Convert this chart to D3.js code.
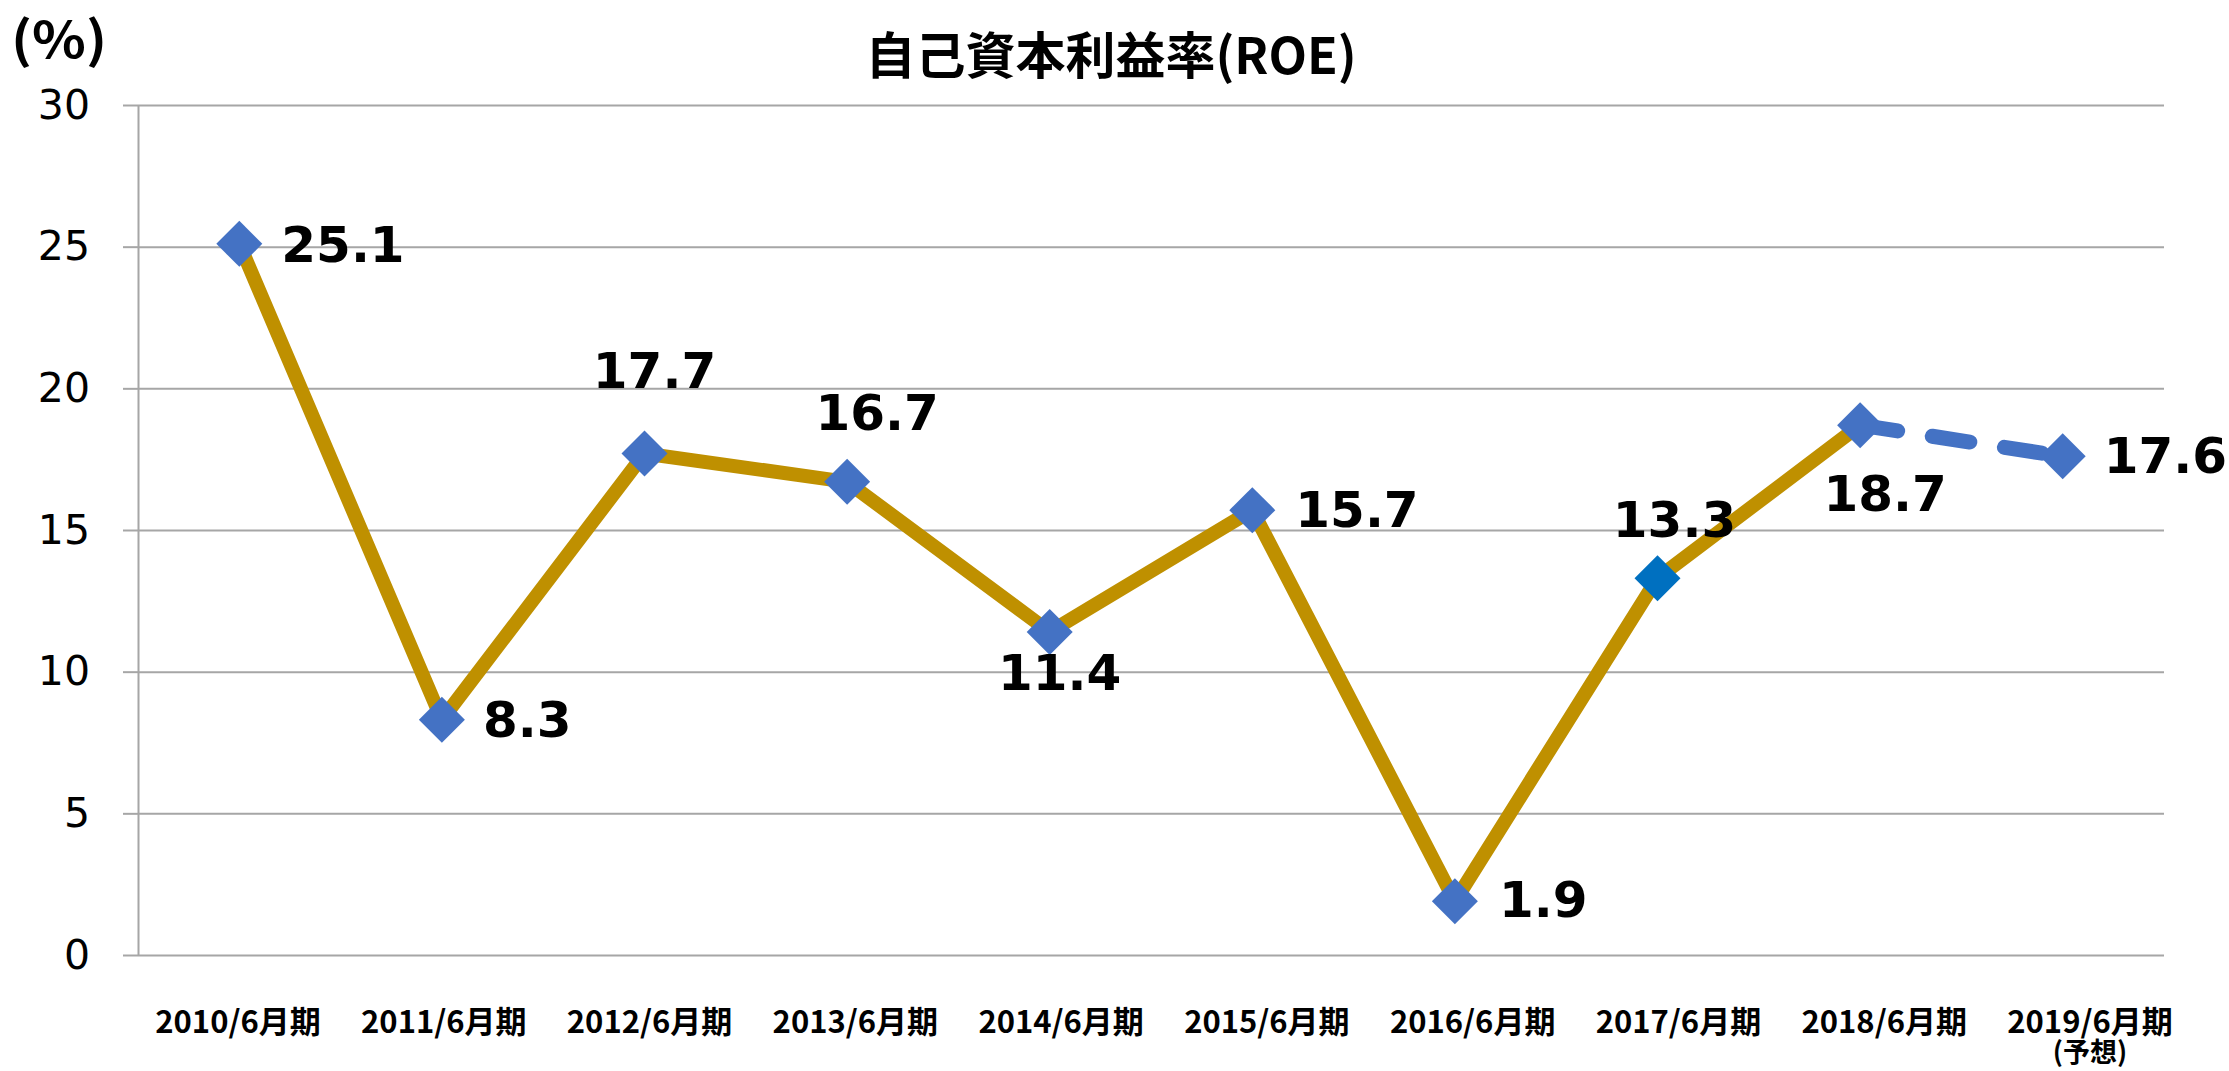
<!DOCTYPE html>
<html>
<meta charset="utf-8">
<style>
body { margin: 0; background: #fff; }
text.cjk { font-family: "Noto Sans CJK JP", sans-serif; font-weight: bold; }
text.num { font-family: "DejaVu Sans", Verdana, sans-serif; }
</style>
<body>
<script src="https://d3js.org/d3.v7.min.js"></script>
<script>
// chart values
var categories = ["2010/6月期", "2011/6月期", "2012/6月期", "2013/6月期", "2014/6月期",
                  "2015/6月期", "2016/6月期", "2017/6月期", "2018/6月期", "2019/6月期"];
var roe = [25.1, 8.3, 17.7, 16.7, 11.4, 15.7, 1.9, 13.3, 18.7, 17.6];
var lastActual = 8;          // 2019 is a forecast
var yTicks = [0, 5, 10, 15, 20, 25, 30];
var title = "自己資本利益率(ROE)";
var unit = "(%)";
var forecastNote = "(予想)";

// where each value label sits around its marker (hand placed, like the original)
var labelPos = [
  {anchor: "start",  dx: 42, dy: 18},
  {anchor: "start",  dx: 41, dy: 17},
  {anchor: "middle", dx: 10, dy: -66},
  {anchor: "middle", dx: 30, dy: -52},
  {anchor: "middle", dx: 10, dy: 58},
  {anchor: "start",  dx: 43, dy: 17},
  {anchor: "start",  dx: 44, dy: 16},
  {anchor: "middle", dx: 17, dy: -41},
  {anchor: "middle", dx: 25, dy: 86},
  {anchor: "start",  dx: 41, dy: 17}
];

var width = 2229, height = 1071;
var plotLeft = 138, plotRight = 2164, plotTop = 105, plotBottom = 955;

var svg = d3.select("body").append("svg")
    .attr("width", width)
    .attr("height", height)
    .style("display", "block");

var x = d3.scaleBand().domain(categories).range([plotLeft, plotRight]);
var y = d3.scaleLinear().domain([0, 30]).range([plotBottom, plotTop]);
// category labels in the original drift slightly right of the markers
var xLab = d3.scalePoint().domain(categories).range([238, 2090]);

function cx(i) { return x(categories[i]) + x.bandwidth() / 2; }

// gridlines
svg.append("g")
    .attr("transform", "translate(" + plotLeft + ",0)")
    .call(d3.axisLeft(y).tickValues(yTicks).tickSize(-(plotRight - plotLeft)).tickFormat(""))
    .call(function(g) {
      g.select(".domain").remove();
      g.selectAll(".tick line").attr("stroke", "#a6a6a6").attr("stroke-width", 2);
    });

// y axis with outside ticks
svg.append("g")
    .attr("transform", "translate(" + plotLeft + ",0)")
    .call(d3.axisLeft(y).tickValues(yTicks).tickSize(15).tickSizeOuter(0).tickPadding(33))
    .call(function(g) {
      g.attr("font-family", null).attr("font-size", null);
      g.select(".domain").attr("stroke", "#a6a6a6").attr("stroke-width", 2);
      g.selectAll(".tick line").attr("stroke", "#a6a6a6").attr("stroke-width", 2);
      g.selectAll(".tick text")
        .attr("class", "num")
        .style("font-size", "41px")
        .attr("fill", "#000");
    });

// x labels
svg.append("g").selectAll("text")
  .data(categories)
  .enter().append("text")
    .attr("class", "cjk")
    .attr("x", function(d) { return xLab(d); })
    .attr("y", 1033)
    .attr("text-anchor", "middle")
    .style("font-size", "31px")
    .text(function(d) { return d; });

svg.append("text")
    .attr("class", "cjk")
    .attr("x", xLab(categories[categories.length - 1]))
    .attr("y", 1062)
    .attr("text-anchor", "middle")
    .style("font-size", "27px")
    .text(forecastNote);

// title and unit
svg.append("text")
    .attr("class", "cjk")
    .attr("x", 1111)
    .attr("y", 74)
    .attr("text-anchor", "middle")
    .style("font-size", "50px")
    .text(title);

svg.append("text")
    .attr("class", "cjk")
    .attr("x", 11)
    .attr("y", 58)
    .attr("textLength", 96)
    .attr("lengthAdjust", "spacingAndGlyphs")
    .style("font-size", "50px")
    .text(unit);

// lines
var line = d3.line()
    .x(function(d) { return cx(d.i); })
    .y(function(d) { return y(d.v); });

var pts = roe.map(function(v, i) { return {i: i, v: v}; });

svg.append("path")
    .datum(pts.slice(0, lastActual + 1))
    .attr("d", line)
    .attr("fill", "none")
    .attr("stroke", "#bf9000")
    .attr("stroke-width", 14)
    .attr("stroke-linejoin", "round");

svg.append("path")
    .datum(pts.slice(lastActual))
    .attr("d", line)
    .attr("fill", "none")
    .attr("stroke", "#4472c4")
    .attr("stroke-width", 15)
    .attr("stroke-linecap", "round")
    .attr("stroke-dasharray", "38,35");

// diamond markers
var r = 23;
svg.append("g").selectAll("path")
  .data(pts)
  .enter().append("path")
    .attr("d", "M0," + (-r) + "L" + r + ",0L0," + r + "L" + (-r) + ",0Z")
    .attr("transform", function(d) { return "translate(" + cx(d.i) + "," + y(d.v) + ")"; })
    .attr("fill", function(d) { return d.i === 7 ? "#0070c0" : "#4472c4"; });

// value labels
svg.append("g").selectAll("text")
  .data(pts)
  .enter().append("text")
    .attr("class", "num")
    .attr("x", function(d) { return cx(d.i) + labelPos[d.i].dx; })
    .attr("y", function(d) { return y(d.v) + labelPos[d.i].dy; })
    .attr("text-anchor", function(d) { return labelPos[d.i].anchor; })
    .style("font-size", "50px")
    .style("font-weight", "bold")
    .text(function(d) { return d.v.toFixed(1); });
</script>
</body>
</html>
